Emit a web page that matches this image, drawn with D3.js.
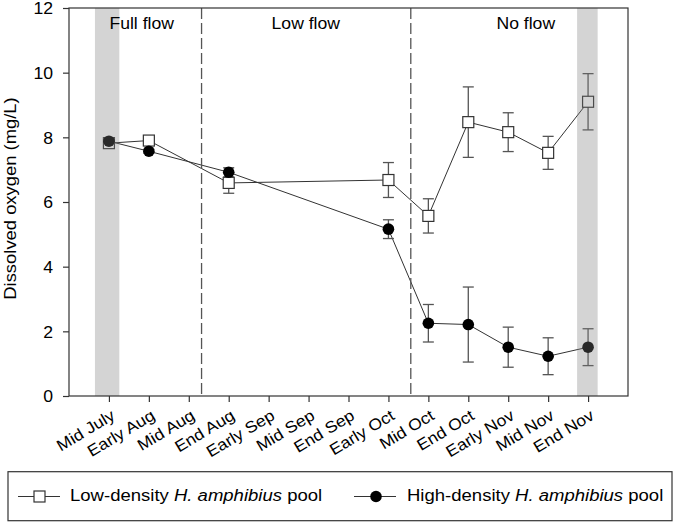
<!DOCTYPE html>
<html>
<head>
<meta charset="utf-8">
<script src="https://cdn.jsdelivr.net/npm/d3@7"></script>
<style>
  html, body { margin: 0; padding: 0; background: #fff; }
  svg { display: block; }
  text { font-family: "Liberation Sans", Arial, sans-serif; fill: #000; }
</style>
</head>
<body>
<svg id="chart" width="677" height="524"></svg>
<script>
// ---------------- data ----------------
const categories = ["Mid July", "Early Aug", "Mid Aug", "End Aug", "Early Sep", "Mid Sep",
  "End Sep", "Early Oct", "Mid Oct", "End Oct", "Early Nov", "Mid Nov", "End Nov"];
const lowMean = [7.82, 7.90, null, 6.59, null, null, null, 6.68, 5.57, 8.47, 8.16, 7.52, 9.10];
const lowErr  = [0.08, 0.08, null, 0.32, null, null, null, 0.54, 0.53, 1.09, 0.60, 0.51, 0.87];
const highMean = [7.88, 7.57, null, 6.92, null, null, null, 5.16, 2.25, 2.21, 1.51, 1.23, 1.51];
const highErr  = [0.08, 0.06, null, 0.14, null, null, null, 0.29, 0.58, 1.16, 0.62, 0.57, 0.57];
const yTicks = [0, 2, 4, 6, 8, 10, 12];
const phaseNames = ["Full flow", "Low flow", "No flow"];
const phaseLabelPos = [0.82, 4.93, 10.44];   // category-index units
const phaseBreaks = [2.32, 7.56];              // category-index units
const bandCenters = [0, 12];                   // shaded sampling periods (category index)
const bandExtents = [[-0.35, 0.26], [-0.275, 0.24]];
const seriesNames = ["Low-density", "High-density"];

// ---------------- layout ----------------
const svg = d3.select("#chart");
const L = 69, R = 628, T = 8, B = 396;
const SX = 1.1;           // horizontal glyph stretch
const FS = 16;

const x = d3.scaleLinear().domain([-1, categories.length]).range([L, R]);
const y = d3.scaleLinear().domain([0, 12]).range([B, T]);

// markers and lines
function drawSeries(mean, err) {
  const g = svg.append("g");
  const pts = mean.map((v, i) => ({ i, v, e: err[i] })).filter(d => d.v != null);
  const line = d3.line().x(d => x(d.i)).y(d => y(d.v));
  g.append("path").datum(pts).attr("d", line)
    .attr("fill", "none").attr("stroke", "#333").attr("stroke-width", 1);
  const eb = g.selectAll("g.eb").data(pts).join("g");
  eb.append("line").attr("x1", d => x(d.i)).attr("x2", d => x(d.i))
    .attr("y1", d => y(d.v + d.e)).attr("y2", d => y(d.v - d.e))
    .attr("stroke", "#555").attr("stroke-width", 1.3);
  [1, -1].forEach(s => {
    eb.append("line").attr("x1", d => x(d.i) - 5.5).attr("x2", d => x(d.i) + 5.5)
      .attr("y1", d => y(d.v + s * d.e)).attr("y2", d => y(d.v + s * d.e))
      .attr("stroke", "#555").attr("stroke-width", 1.3);
  });
  return { g, pts };
}
const low = drawSeries(lowMean, lowErr);
const high = drawSeries(highMean, highErr);
low.g.selectAll("rect.m").data(low.pts).join("rect").attr("class", "m")
  .attr("x", d => x(d.i) - 5.5).attr("y", d => y(d.v) - 5.5)
  .attr("width", 11).attr("height", 11)
  .attr("fill", "#fff").attr("stroke", "#333").attr("stroke-width", 1.2);
high.g.selectAll("circle.m").data(high.pts).join("circle").attr("class", "m")
  .attr("cx", d => x(d.i)).attr("cy", d => y(d.v)).attr("r", 5.8)
  .attr("fill", "#000");

// shaded bands (translucent overlay)
svg.selectAll("rect.band").data(bandCenters).join("rect").attr("class", "band")
  .attr("x", (c, k) => x(c + bandExtents[k][0]))
  .attr("width", (c, k) => x(c + bandExtents[k][1]) - x(c + bandExtents[k][0]))
  .attr("y", T).attr("height", B - T)
  .attr("fill", "#7b7b7b").attr("fill-opacity", 0.33);

// phase break dashed lines
svg.selectAll("line.brk").data(phaseBreaks).join("line")
  .attr("x1", d => x(d)).attr("x2", d => x(d)).attr("y1", T).attr("y2", B)
  .attr("stroke", "#555").attr("stroke-width", 1.3).attr("stroke-dasharray", "11,4");

// phase labels
svg.selectAll("text.ph").data(phaseNames).join("text")
  .attr("text-anchor", "middle").style("font-size", FS + "px")
  .attr("transform", (d, i) => `translate(${x(phaseLabelPos[i])},28.5) scale(${SX},1)`)
  .text(d => d);

// frame
svg.append("rect").attr("x", L).attr("y", T).attr("width", R - L).attr("height", B - T)
  .attr("fill", "none").attr("stroke", "#333").attr("stroke-width", 1.2);

// y axis
const yAxis = svg.append("g").attr("transform", `translate(${L},0)`)
  .call(d3.axisLeft(y).tickValues(yTicks).tickSize(6).tickFormat(d3.format("d")));
yAxis.select(".domain").remove();
yAxis.selectAll(".tick line").attr("stroke", "#333").attr("stroke-width", 1.2);
yAxis.selectAll(".tick text").attr("x", null).attr("dy", "0.36em")
  .style("font-size", FS + "px").style("font-family", "Liberation Sans, Arial, sans-serif")
  .attr("fill", "#000")
  .attr("transform", `translate(-16,0) scale(${SX},1)`);

// x axis
const xAxis = svg.append("g").attr("transform", `translate(0,${B})`)
  .call(d3.axisBottom(x).tickValues(d3.range(categories.length)).tickSize(6)
    .tickFormat(i => categories[i]));
xAxis.select(".domain").remove();
xAxis.selectAll(".tick line").attr("stroke", "#333").attr("stroke-width", 1.2);
xAxis.selectAll(".tick text").attr("y", null).attr("dy", null)
  .style("font-size", FS + "px").style("font-family", "Liberation Sans, Arial, sans-serif")
  .attr("fill", "#000").attr("text-anchor", "end")
  .attr("transform", `translate(6.7,22.5) rotate(-31) scale(${SX},1)`);

// y axis title
svg.append("text").attr("text-anchor", "middle").style("font-size", "16px")
  .attr("transform", `translate(16,198.5) rotate(-90) scale(1.15,1)`)
  .text("Dissolved oxygen (mg/L)");

// legend
svg.append("rect").attr("x", 8).attr("y", 471.7).attr("width", 664).attr("height", 49)
  .attr("fill", "#fff").attr("stroke", "#333").attr("stroke-width", 1.2);
const legY = 496.5;
const legItems = [{ lx: 18, tx: 70 }, { lx: 354, tx: 407 }];
legItems.forEach((it, k) => {
  svg.append("line").attr("x1", it.lx).attr("x2", it.lx + 42).attr("y1", legY).attr("y2", legY)
    .attr("stroke", "#333").attr("stroke-width", 1);
  if (k === 0) {
    svg.append("rect").attr("x", it.lx + 21.5 - 5.5).attr("y", legY - 5.5).attr("width", 11).attr("height", 11)
      .attr("fill", "#fff").attr("stroke", "#333").attr("stroke-width", 1.2);
  } else {
    svg.append("circle").attr("cx", it.lx + 22).attr("cy", legY).attr("r", 5.8).attr("fill", "#000");
  }
  const t = svg.append("text").style("font-size", "17px")
    .attr("transform", `translate(${it.tx},${legY + 4.8}) scale(1.09,1)`);
  t.append("tspan").text(seriesNames[k] + " ");
  t.append("tspan").style("font-style", "italic").text("H. amphibius");
  t.append("tspan").text(" pool");
});
</script>
</body>
</html>
